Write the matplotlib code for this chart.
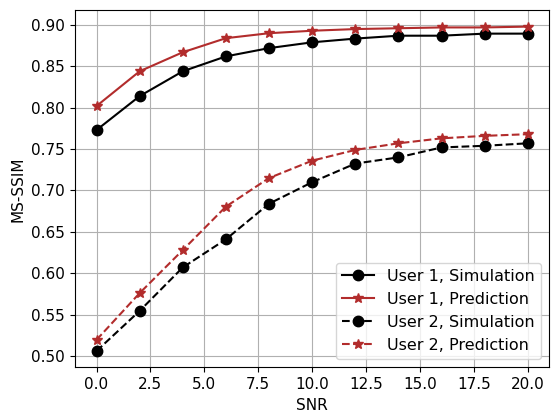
import matplotlib

matplotlib.use("Agg")
import matplotlib.pyplot as plt

snr = [0, 2, 4, 6, 8, 10, 12, 14, 16, 18, 20]
user1_sim = [0.773, 0.814, 0.844, 0.862, 0.872, 0.879, 0.8835, 0.887, 0.887, 0.8895, 0.8895]
user1_pred = [0.802, 0.844, 0.867, 0.884, 0.890, 0.893, 0.895, 0.896, 0.897, 0.897, 0.898]
user2_sim = [0.506, 0.5545, 0.607, 0.641, 0.684, 0.710, 0.7325, 0.740, 0.752, 0.754, 0.757]
user2_pred = [0.5195, 0.576, 0.628, 0.6805, 0.715, 0.736, 0.749, 0.757, 0.763, 0.766, 0.768]

RED = "#b22c2c"

fig, ax = plt.subplots(figsize=(5.51, 4.15), dpi=100)
ax.plot(snr, user1_sim, "o-", color="black", markersize=7.5, label="User 1, Simulation")
ax.plot(snr, user1_pred, "*-", color=RED, markersize=7.5, label="User 1, Prediction")
ax.plot(snr, user2_sim, "o--", color="black", markersize=7.5, label="User 2, Simulation")
ax.plot(snr, user2_pred, "*--", color=RED, markersize=7.5, label="User 2, Prediction")
ax.set_xlabel("SNR", fontsize=11)
ax.set_ylabel("MS-SSIM", fontsize=11)
ax.tick_params(labelsize=11)
ax.grid(True)
ax.legend(loc="lower right", fontsize=11.5)
fig.subplots_adjust(left=0.136, right=0.997, top=0.975, bottom=0.115)
fig.savefig("out.png", dpi=100)
